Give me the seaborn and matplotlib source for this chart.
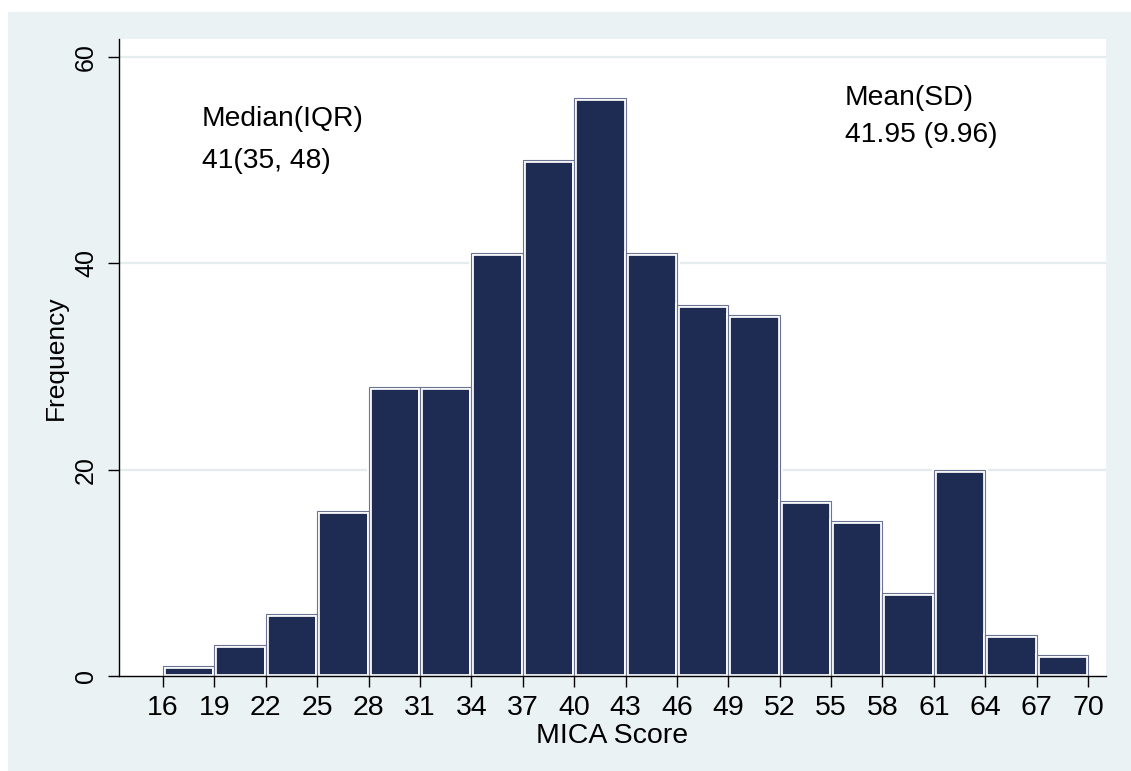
import numpy as np
import pandas as pd
import matplotlib
matplotlib.use("Agg")
import matplotlib.pyplot as plt
import seaborn as sns
from matplotlib.patches import Rectangle

# ---- data ----
bin_edges = [16, 19, 22, 25, 28, 31, 34, 37, 40, 43, 46, 49, 52, 55, 58, 61, 64, 67, 70]
counts = [1, 3, 6, 16, 28, 28, 41, 50, 56, 41, 36, 35, 17, 15, 8, 20, 4, 2]
x_ticks = [16, 19, 22, 25, 28, 31, 34, 37, 40, 43, 46, 49, 52, 55, 58, 61, 64, 67, 70]
y_ticks = [0, 20, 40, 60]
median_text = ["Median(IQR)", "41(35, 48)"]
mean_text = ["Mean(SD)", "41.95 (9.96)"]

mids = [(a + b) / 2 for a, b in zip(bin_edges[:-1], bin_edges[1:])]
df = pd.DataFrame({"score": mids, "freq": counts})

sns.set_theme(style="white")
plt.rcParams["font.family"] = ["Liberation Sans", "DejaVu Sans"]

navy = "#1e2c54"
outline = "#6a7394"
panel = "#eaf2f3"

fig = plt.figure(figsize=(11.31, 7.71), dpi=100)
fig.patch.set_facecolor("white")
fig.patches.append(Rectangle((8 / 1131, 0), 1, 1 - 12 / 771, transform=fig.transFigure,
                             facecolor=panel, edgecolor="none", zorder=-10))

ax = fig.add_axes([119 / 1131, 1 - 676 / 771, (1106 - 119) / 1131, (676 - 39) / 771])
ax.set_zorder(1)
ax.set_facecolor("white")
ax.set_axisbelow(True)

sns.histplot(data=df, x="score", weights="freq", bins=bin_edges, color=navy,
             edgecolor="white", linewidth=3.4, alpha=1, ax=ax, zorder=2)
sns.histplot(data=df, x="score", weights="freq", bins=bin_edges, fill=False,
             color=outline, linewidth=0.8, ax=ax, zorder=3)

ax.set_xlim(13.43, 71.05)
ax.set_ylim(0, 61.74)
ax.set_xticks(x_ticks)
ax.set_xticklabels([str(t) for t in x_ticks])
ax.set_yticks(y_ticks)
ax.set_yticklabels([str(t) for t in y_ticks], rotation=90, va="center")

for y in y_ticks[1:]:
    ax.axhline(y, color="#e4eced", linewidth=1.6, zorder=1)

for s in ["top", "right"]:
    ax.spines[s].set_visible(False)
for s in ["left", "bottom"]:
    ax.spines[s].set_color("black")
    ax.spines[s].set_linewidth(1.0)

ax.tick_params(axis="both", which="major", direction="out", length=8, width=1,
               color="black", labelcolor="black", bottom=True, left=True)
ax.tick_params(axis="x", pad=6, labelsize=20.5)
ax.tick_params(axis="y", pad=7, labelsize=18)

ax.set_xlabel("MICA Score", fontsize=20.5, color="black")
ax.set_ylabel("Frequency", fontsize=19, color="black")
ax.xaxis.set_label_coords(0.5, (676 - 743) / (676 - 39))
ax.xaxis.label.set_va("baseline")
ax.yaxis.set_label_coords((56 - 119) / (1106 - 119), 0.5)
ax.yaxis.label.set_va("center")

ax.text(18.26, 53.3, median_text[0], fontsize=20.3, color="black", va="baseline", ha="left")
ax.text(18.26, 49.24, median_text[1], fontsize=20.3, color="black", va="baseline", ha="left")
ax.text(55.8, 55.3, mean_text[0], fontsize=20.3, color="black", va="baseline", ha="left")
ax.text(55.8, 51.8, mean_text[1], fontsize=20.3, color="black", va="baseline", ha="left")

fig.savefig("out.png", dpi=100, facecolor=fig.get_facecolor())
